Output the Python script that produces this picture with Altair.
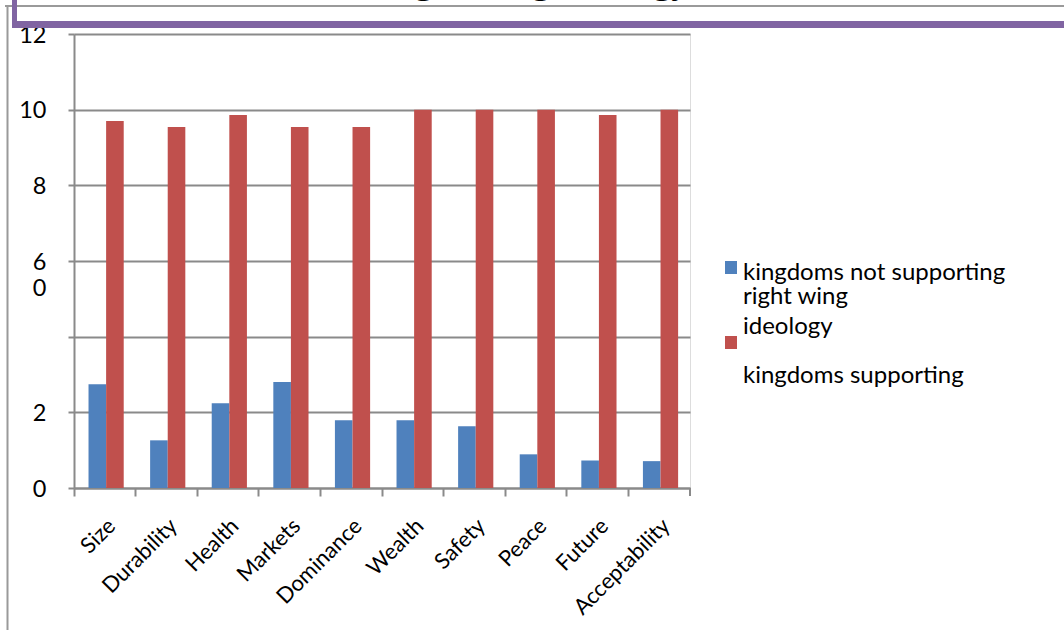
import altair as alt
import pandas as pd

categories = ["Size", "Durability", "Health", "Markets", "Dominance",
              "Wealth", "Safety", "Peace", "Future", "Acceptability"]
series = ["kingdoms not supporting right wing ideology", "kingdoms supporting"]
not_supporting = [2.74, 1.26, 2.24, 2.80, 1.79, 1.79, 1.63, 0.89, 0.73, 0.71]
supporting = [9.70, 9.54, 9.86, 9.54, 9.54, 10.0, 10.0, 10.0, 9.86, 10.0]
colors = ["#4F81BD", "#C0504D"]
y_ticks = [0, 2, 4, 6, 8, 10, 12]

rows = []
for c, a, b in zip(categories, not_supporting, supporting):
    rows.append({"category": c, "series": series[0], "value": a})
    rows.append({"category": c, "series": series[1], "value": b})
df = pd.DataFrame(rows)

W, H = 616, 454
GRID = "#8a8a8a"
FONT = "Lato"

bars = alt.Chart(df).mark_bar().encode(
    x=alt.X("category:N", sort=categories,
            scale=alt.Scale(paddingInner=0, paddingOuter=0),
            axis=alt.Axis(title=None, labelAngle=-45, labelFont=FONT, labelFontSize=22,
                          labelColor="black", bandPosition=0, tickSize=8, tickColor=GRID,
                          tickWidth=2, domainColor=GRID, domainWidth=2, grid=False,
                          labelPadding=19)),
    xOffset=alt.XOffset("series:N", sort=series,
                        scale=alt.Scale(paddingInner=0, paddingOuter=0.75, align=0.55)),
    y=alt.Y("value:Q", scale=alt.Scale(domain=[0, 12], nice=False),
            axis=alt.Axis(title=None, values=y_ticks, labelFont=FONT, labelFontSize=23.5,
                          labelColor="black", tickSize=6, tickColor=GRID, tickWidth=2,
                          domainColor=GRID, domainWidth=2, gridColor=GRID, gridWidth=2,
                          labelPadding=22, labelLineHeight=26, labelOffset=1,
                          labelExpr="datum.value == 6 ? ['6', '0'] : (datum.value == 4 ? '' : datum.label)")),
    color=alt.Color("series:N", sort=series,
                    scale=alt.Scale(domain=series, range=colors), legend=None),
)

one = pd.DataFrame({"k": [0]})

def rule(x, x2, y, y2, color, width):
    return alt.Chart(one).mark_rule(color=color, strokeWidth=width).encode(
        x=alt.value(x), x2=alt.value(x2), y=alt.value(y), y2=alt.value(y2))

end_tick = rule(W, W, H, H + 8, GRID, 2)

frame_h = rule(-69, 990, -28, -28, "#9a9a9a", 2)
frame_v = rule(-66.5, -66.5, -28, 596, "#9a9a9a", 2)
purple_v = rule(-59.5, -59.5, -34, -6, "#8064A2", 5)
purple_h = rule(-62, 990, -9.5, -9.5, "#8064A2", 7)

title = alt.Chart(one).mark_text(
    text="right wing ideology", font="Liberation Serif", fontWeight="bold",
    fontSize=36.7, align="left", baseline="alphabetic", color="black"
).encode(x=alt.value(314), y=alt.value(-41))

def swatch(y, color):
    return alt.Chart(one).mark_rect(color=color).encode(
        x=alt.value(651), x2=alt.value(663), y=alt.value(y), y2=alt.value(y + 13))

def label(txt, y):
    return alt.Chart(one).mark_text(
        text=txt, font=FONT, fontSize=24, align="left", baseline="alphabetic", color="black"
    ).encode(x=alt.value(669), y=alt.value(y))

legend = [
    swatch(227, colors[0]), swatch(302, colors[1]),
    label("kingdoms not supporting", 246), label("right wing", 270),
    label("ideology", 300), label("kingdoms supporting", 349),
]

chart = alt.layer(bars, end_tick, frame_h, frame_v, purple_v, purple_h, title, *legend).properties(
    width=W, height=H,
    autosize=alt.AutoSizeParams(type="none"),
    padding={"left": 74, "top": 34, "right": 374, "bottom": 142},
).configure_view(stroke=None).configure(background="white")

chart.save("out.html", embed_options={"renderer": "svg", "actions": False})
